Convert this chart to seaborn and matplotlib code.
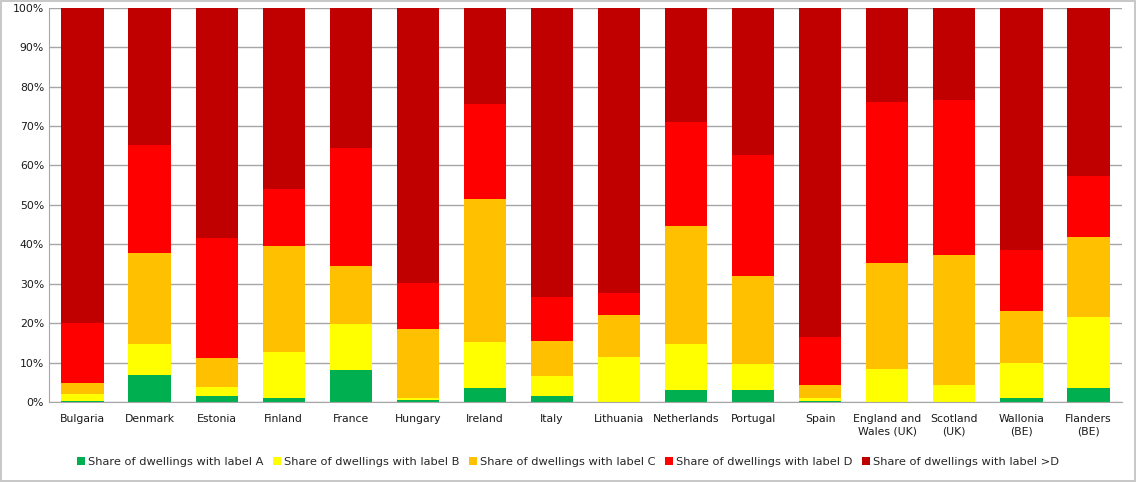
import matplotlib
matplotlib.use("Agg")
import matplotlib.pyplot as plt
import seaborn as sns
import pandas as pd
import numpy as np
from matplotlib.ticker import PercentFormatter

countries = ['Bulgaria', 'Denmark', 'Estonia', 'Finland', 'France', 'Hungary',
             'Ireland', 'Italy', 'Lithuania', 'Netherlands', 'Portugal', 'Spain',
             'England and\nWales (UK)', 'Scotland\n(UK)', 'Wallonia\n(BE)', 'Flanders\n(BE)']

# shares in %
label_a = [0.3, 6.8, 1.6, 1.0, 8.2, 0.6, 3.5, 1.5, 0.0, 3.0, 3.0, 0.3, 0.0, 0.0, 0.9, 3.5]
label_b = [1.7, 8.0, 2.1, 11.7, 11.6, 0.3, 11.6, 5.1, 11.4, 11.8, 6.7, 0.6, 8.4, 4.4, 9.1, 18.0]
label_c = [2.8, 22.9, 7.4, 26.9, 14.7, 17.6, 36.5, 8.9, 10.6, 29.8, 22.2, 3.5, 26.8, 32.8, 13.2, 20.3]
label_d = [15.2, 27.4, 30.4, 14.3, 29.8, 11.6, 24.1, 11.1, 5.6, 26.5, 30.7, 12.1, 41.0, 39.3, 15.3, 15.6]

series = ['Share of dwellings with label A', 'Share of dwellings with label B',
          'Share of dwellings with label C', 'Share of dwellings with label D',
          'Share of dwellings with label >D']
colors = ['#00B050', '#FFFF00', '#FFC000', '#FF0000', '#C00000']

df = pd.DataFrame({'country': countries, 'A': label_a, 'B': label_b,
                   'C': label_c, 'D': label_d})
df['E'] = 100 - df[['A', 'B', 'C', 'D']].sum(axis=1)

sns.set_style('white')
plt.rcParams['font.family'] = ['Liberation Sans Narrow', 'DejaVu Sans']

fig = plt.figure(figsize=(11.36, 4.82), dpi=100)
fig.patch.set_edgecolor('#c8c8c8')
fig.patch.set_linewidth(1.5)
ax = fig.add_axes([0.0431, 0.166, 0.9446, 0.818])

# stacked bars: draw cumulative totals from the top layer down
cols = ['A', 'B', 'C', 'D', 'E']
cum = df[cols].cumsum(axis=1)
for i in range(len(cols) - 1, -1, -1):
    sns.barplot(x=df['country'], y=cum[cols[i]], color=colors[i], ax=ax,
                width=0.63, linewidth=0, saturation=1, label=series[i], zorder=2)

handles, labels = ax.get_legend_handles_labels()
if ax.get_legend() is not None:
    ax.get_legend().remove()

ax.set_ylim(0, 100)
ax.set_xlim(-0.5, len(countries) - 0.5)
ax.set_yticks(np.arange(0, 101, 10))
ax.yaxis.set_major_formatter(PercentFormatter(decimals=0))
ax.grid(axis='y', color='#a6a6a6', linewidth=1, zorder=0)
ax.set_axisbelow(True)
ax.set_xlabel('')
ax.set_ylabel('')
for s in ['top', 'right']:
    ax.spines[s].set_visible(False)
for s in ['left', 'bottom']:
    ax.spines[s].set_color('#a6a6a6')
ax.tick_params(axis='both', length=0, labelsize=7.8, colors='#1a1a1a')
ax.tick_params(axis='x', pad=9)

handles, labels = handles[::-1], labels[::-1]
fig.legend(handles, labels, loc='center', bbox_to_anchor=(0.5, 0.042), ncol=5,
           frameon=False, fontsize=8.2, handlelength=0.7, handleheight=0.7,
           handletextpad=0.3, columnspacing=0.8)

fig.savefig('out.png', dpi=100, edgecolor=fig.get_edgecolor())
